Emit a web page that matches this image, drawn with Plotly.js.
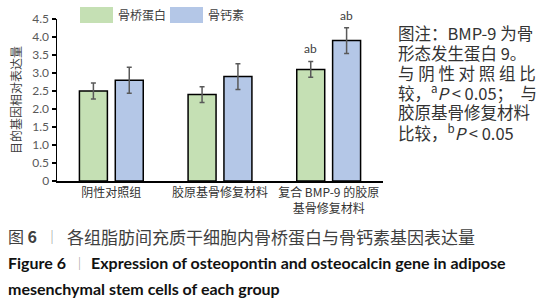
<!DOCTYPE html>
<html>
<head>
<meta charset="utf-8">
<script src="https://cdn.plot.ly/plotly-3.0.1.min.js"></script>
<style>html,body{margin:0;padding:0;background:#fff;}#chart{width:546px;height:300px;}</style>
</head>
<body>
<div id="chart"></div>
<script>
// ---- data ----
const categories = ['阴性对照组', '胶原基骨修复材料', '复合 BMP-9 的胶原<br>基骨修复材料'];
const seriesNames = ['骨桥蛋白', '骨钙素'];
const opnValues = [2.5, 2.4, 3.1];
const opnErrors = [0.22, 0.22, 0.22];
const ocnValues = [2.8, 2.9, 3.9];
const ocnErrors = [0.36, 0.36, 0.36];
const opnSig = ['', '', 'ab'];
const ocnSig = ['', '', 'ab'];
const yTickVals = [0, 0.5, 1, 1.5, 2, 2.5, 3, 3.5, 4, 4.5];
const yTickText = ['0', '0.5', '1.0', '1.5', '2.0', '2.5', '3.0', '3.5', '4.0', '4.5'];
const noteLines = [
  '图注：BMP-9 为骨',
  '形态发生蛋白 9。',
  '与 阴 性 对 照 组 比',
  '较，<sup>a</sup><i>P</i> &lt; 0.05；  与',
  '胶原基骨修复材料',
  '比较，<sup>b</sup><i>P</i> &lt; 0.05'
];
const captionCn = '各组脂肪间充质干细胞内骨桥蛋白与骨钙素基因表达量';
const captionEn1 = 'Expression of osteopontin and osteocalcin gene in adipose';
const captionEn2 = 'mesenchymal stem cells of each group';

const colGreen = '#c5e0b4';
const colBlue = '#b4c7e7';
const FONT = 'Lato, "Noto Sans CJK SC", sans-serif';
const CJK = '"Noto Sans CJK SC", Lato, sans-serif';

const errStyle = {type: 'data', visible: true, color: '#595959', thickness: 1.5, width: 2.5};

const traces = [
  {type: 'bar', name: seriesNames[0], x: categories, y: opnValues,
   error_y: Object.assign({array: opnErrors}, errStyle),
   marker: {color: colGreen, line: {color: '#000', width: 1.5}}},
  {type: 'bar', name: seriesNames[1], x: categories, y: ocnValues,
   error_y: Object.assign({array: ocnErrors}, errStyle),
   marker: {color: colBlue, line: {color: '#000', width: 1.5}}}
];

const W = 546, H = 300;
const M = {l: 57, r: 163, t: 19, b: 119};
const PW = W - M.l - M.r, PH = H - M.t - M.b;
const px = (v) => (v - M.l) / PW, py = (v) => (H - M.b - v) / PH;

const annotations = [];
categories.forEach((c, i) => {
  if (opnSig[i]) annotations.push({x: c, y: opnValues[i] + opnErrors[i], xref: 'x', yref: 'y', text: opnSig[i],
    showarrow: false, xshift: -18, yshift: 3, yanchor: 'bottom', font: {family: FONT, size: 12, color: '#404040'}});
  if (ocnSig[i]) annotations.push({x: c, y: ocnValues[i] + ocnErrors[i], xref: 'x', yref: 'y', text: ocnSig[i],
    showarrow: false, xshift: 18, yshift: 3, yanchor: 'bottom', font: {family: FONT, size: 12, color: '#404040'}});
});

// legend (custom, big swatches)
const shapes = [
  {type: 'rect', xref: 'paper', yref: 'paper', x0: px(80), x1: px(113), y0: py(23), y1: py(7), fillcolor: colGreen, line: {width: 0}},
  {type: 'rect', xref: 'paper', yref: 'paper', x0: px(170), x1: px(203), y0: py(23), y1: py(7), fillcolor: colBlue, line: {width: 0}}
];
annotations.push({xref: 'paper', yref: 'paper', x: px(116), y: py(15), xanchor: 'left', yanchor: 'middle', showarrow: false,
  text: seriesNames[0], font: {family: CJK, size: 12, color: '#404040'}});
annotations.push({xref: 'paper', yref: 'paper', x: px(206), y: py(15), xanchor: 'left', yanchor: 'middle', showarrow: false,
  text: seriesNames[1], font: {family: CJK, size: 12, color: '#404040'}});

// right note
noteLines.forEach((t, i) => {
  annotations.push({xref: 'paper', yref: 'paper', x: px(396), y: py(33 + i * 19.8), xanchor: 'left', yanchor: 'middle',
    showarrow: false, text: t, font: {family: CJK, size: 16.5, color: '#333'}});
});

// captions
const capC = '#404040';
annotations.push({xref: 'paper', yref: 'paper', x: px(6), y: py(236), xanchor: 'left', yanchor: 'middle', showarrow: false,
  text: '图 <b>6</b>', font: {family: CJK, size: 16, color: capC}});
annotations.push({xref: 'paper', yref: 'paper', x: px(43), y: py(236), xanchor: 'left', yanchor: 'middle', showarrow: false,
  text: '｜', font: {family: CJK, size: 14, color: '#999'}});
annotations.push({xref: 'paper', yref: 'paper', x: px(65), y: py(236), xanchor: 'left', yanchor: 'middle', showarrow: false,
  text: captionCn, font: {family: CJK, size: 17, color: capC}});
annotations.push({xref: 'paper', yref: 'paper', x: px(6), y: py(262), xanchor: 'left', yanchor: 'middle', showarrow: false,
  text: '<b>Figure 6</b>', font: {family: FONT, size: 16, color: '#111'}});
annotations.push({xref: 'paper', yref: 'paper', x: px(71), y: py(262), xanchor: 'left', yanchor: 'middle', showarrow: false,
  text: '｜', font: {family: CJK, size: 13, color: '#999'}});
annotations.push({xref: 'paper', yref: 'paper', x: px(89), y: py(262), xanchor: 'left', yanchor: 'middle', showarrow: false,
  text: '<b>' + captionEn1 + '</b>', font: {family: FONT, size: 16, color: '#111'}});
annotations.push({xref: 'paper', yref: 'paper', x: px(6), y: py(288), xanchor: 'left', yanchor: 'middle', showarrow: false,
  text: '<b>' + captionEn2 + '</b>', font: {family: FONT, size: 16, color: '#111'}});

const layout = {
  width: W, height: H,
  margin: {l: M.l, r: M.r, t: M.t, b: M.b, pad: 0},
  paper_bgcolor: '#fff', plot_bgcolor: '#fff',
  showlegend: false,
  barmode: 'group', bargap: 0.34, bargroupgap: 0.22,
  font: {family: FONT, size: 12, color: '#404040'},
  xaxis: {showline: true, linecolor: '#000', linewidth: 1.5, ticks: '', showgrid: false, zeroline: false,
    tickfont: {family: CJK, size: 12, color: '#333'}, automargin: false, fixedrange: true},
  yaxis: {range: [0, 4.5], tickvals: yTickVals, ticktext: yTickText, showline: true, linecolor: '#000', linewidth: 1.5,
    ticks: 'outside', ticklen: 4, tickwidth: 1.5, tickcolor: '#000', showgrid: false, zeroline: false,
    tickfont: {family: FONT, size: 12, color: '#595959'}, automargin: false,
    title: {text: '目的基因相对表达量', font: {family: CJK, size: 12, color: '#404040'}, standoff: 8}},
  shapes: shapes,
  annotations: annotations
};

Plotly.newPlot('chart', traces, layout, {displayModeBar: false, staticPlot: true});
</script>
</body>
</html>
